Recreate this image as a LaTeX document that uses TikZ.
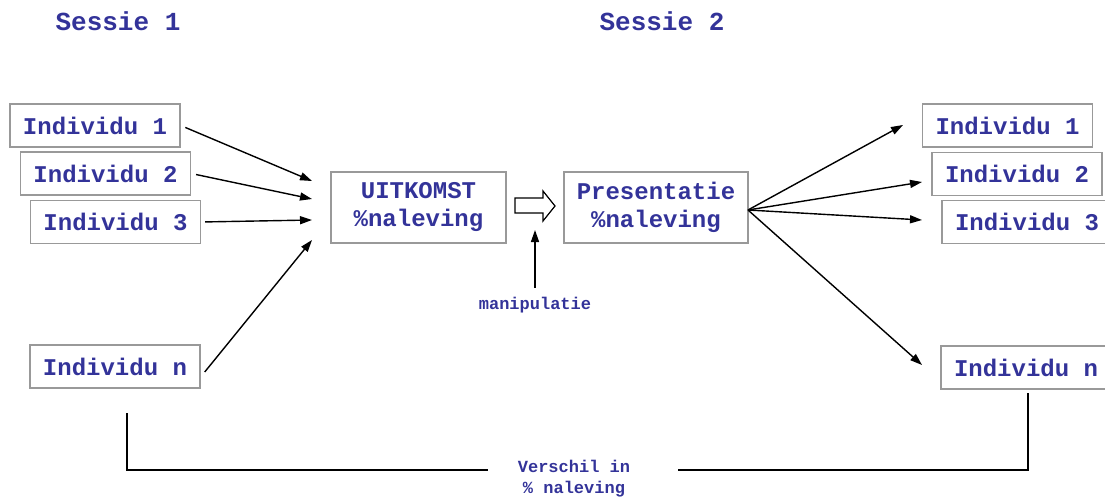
\documentclass[tikz,border=0pt]{standalone}
\usepackage{fontspec}
\newfontfamily\cour{Liberation Mono}
\usetikzlibrary{arrows.meta}
\definecolor{ink}{HTML}{333399}
\definecolor{frame}{HTML}{999999}
\begin{document}
\begin{tikzpicture}[x=1pt,y=-1pt,
  box/.style={draw=frame,line width=1.4pt,text=ink,
    font=\cour\bfseries\fontsize{24}{28}\selectfont,
    inner sep=0pt,align=center,minimum width=170pt,minimum height=43pt},
  link/.style={line width=1.4pt,-{Triangle[length=12pt,width=8pt]}},
  small/.style={text=ink,font=\cour\bfseries\fontsize{17}{21}\selectfont,
    inner sep=0pt,align=center},
  title/.style={text=ink,font=\cour\bfseries\fontsize{26}{30}\selectfont,inner sep=0pt}]
\clip (0,0) rectangle (1105,497);

% session headings
\node[title] (s1) at (118,21) {Sessie 1};
\node[title] (s2) at (662,21) {Sessie 2};

% session 1: individuals
\node[box] (l1) at (95,125.5) {Individu 1};
\node[box] (l2) at (105.5,173.5) {Individu 2};
\node[box] (l3) at (115.5,222) {Individu 3};
\node[box] (ln) at (115,366.5) {Individu n};

% outcome and presentation
\node[box,minimum width=175pt,minimum height=71pt] (uit) at (418.5,207.5) {UITKOMST\\\%naleving};
\node[box,minimum width=184pt,minimum height=71pt] (pres) at (656,207.5) {Presentatie\\\%naleving};

% session 2: individuals
\node[box] (r1) at (1007.5,125.5) {Individu 1};
\node[box] (r2) at (1017,174) {Individu 2};
\node[box] (r3) at (1027,222) {Individu 3};
\node[box] (rn) at (1026,367.5) {Individu n};

% arrow tips in front of the outcome box
\coordinate (a1) at (312,181);
\coordinate (a2) at (312,199);
\coordinate (a3) at (312,220);
\coordinate (a4) at (312,240);
\draw[link,shorten <=5pt] (l1.east) -- (a1);
\draw[link,shorten <=5pt] (l2.east) -- (a2);
\draw[link,shorten <=4pt] (l3.east) -- (a3);
\draw[link] ([xshift=4pt,yshift=-5.5pt]ln.east) -- (a4);

% hollow arrow between outcome and presentation
\draw[line width=1.2pt,fill=white]
  (515,198) -- (543,198) -- (543,191) -- (555,206) -- (543,221) -- (543,213) -- (515,213) -- cycle;

% manipulation
\node[small] (manip) at (535,305) {manipulatie};
\coordinate (mtip) at (535,230);
\draw[link,shorten <=9pt] (manip.north) -- (mtip);

% arrows to the individuals of session 2
\coordinate (hub) at (748,210);
\coordinate (b1) at (903,125);
\coordinate (b2) at (922,182);
\coordinate (b3) at (922,220);
\coordinate (b4) at (922,365);
\draw[link] (hub) -- (b1);
\draw[link] (hub) -- (b2);
\draw[link] (hub) -- (b3);
\draw[link] (hub) -- (b4);

% difference bracket
\node[small] (diff) at (574,479) {Verschil in\\\% naleving};
\coordinate (c1) at (127,413);
\coordinate (c2) at (488,470);
\coordinate (c3) at (678,470);
\coordinate (c4) at (1028,393);
\draw[line width=1.2pt] (c1) |- (c2);
\draw[line width=1.2pt] (c3) -| (c4);
\end{tikzpicture}
\end{document}
